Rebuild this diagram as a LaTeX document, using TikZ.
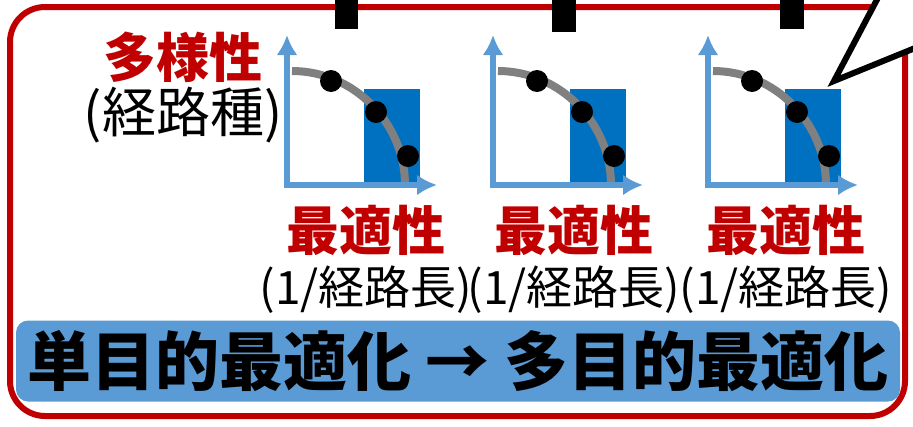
\documentclass[tikz,border=0pt]{standalone}
\usepackage{fontspec}
\newfontfamily\jpfont{Noto Sans CJK JP}
\usetikzlibrary{arrows.meta}
\definecolor{rougecadre}{HTML}{C00000}
\definecolor{bleuclair}{HTML}{5B9BD5}
\definecolor{bleufonce}{HTML}{0070C0}
\definecolor{grisfront}{HTML}{808080}

\begin{document}
\begin{tikzpicture}[x=1pt,y=-1pt,
  axe/.style={draw=bleuclair,line width=6pt,<->,>={Latex[length=20pt,width=21pt]}},
  front/.style={draw=grisfront,line width=8pt},
  rouge/.style={inner sep=0pt,text=rougecadre,font=\jpfont\bfseries\fontsize{53}{56}\selectfont},
  noir/.style={inner sep=0pt,font=\jpfont\fontsize{54}{58}\selectfont},
  petit/.style={inner sep=0pt,font=\jpfont\fontsize{46}{50}\selectfont},
  bandeau/.style={fill=bleuclair,rounded corners=12pt,minimum width=884pt,minimum height=81pt,
    inner sep=0pt,font=\jpfont\bfseries\fontsize{64}{68}\selectfont}]

\useasboundingbox (0,0) rectangle (913,426);

% Cadre rouge
\draw[line width=6pt,color=rougecadre,rounded corners=35pt] (10,7) rectangle (905,416);

% Pieds noirs en haut
\fill (335,-2) rectangle (358,29);
\fill (552,-2) rectangle (576,32);
\fill (780,-2) rectangle (804,29);

% Bulle (pointe)
\fill[white] (881,-8) -- (834,81) -- (920,46) -- (920,-8) -- cycle;
\draw[line width=6pt] (881,-8) -- (834,81) -- (920,46);

% Les trois graphes
\foreach \ox/\nom in {287/a,493/b,708/c}{
  \fill[bleufonce] (\ox+77,89) rectangle (\ox+133,184);
  \draw[front] (\ox+5,71) .. controls (\ox+67,71) and (\ox+118,123) .. (\ox+118,185);
  \draw[axe] (\ox,35) -- (\ox,185) -- (\ox+150,185);
  \fill (\ox+44,81) circle (11pt);
  \fill (\ox+89,112) circle (11pt);
  \fill (\ox+121,156) circle (11pt);
}

% Axes : textes
\node[rouge] (diversite) at (183,57) {多様性};
\node[noir] (diversitesub) at (183,115) {(経路種)};
\foreach \cx/\nom in {366/a,574/b,786/c}{
  \node[rouge] (opt\nom) at (\cx,230) {最適性};
  \node[petit] (long\nom) at (\cx,290) {(1/経路長)};
}

% Bandeau du bas
\node[bandeau] (bandeau) at (458,361) {単目的最適化 → 多目的最適化};

\end{tikzpicture}
\end{document}
